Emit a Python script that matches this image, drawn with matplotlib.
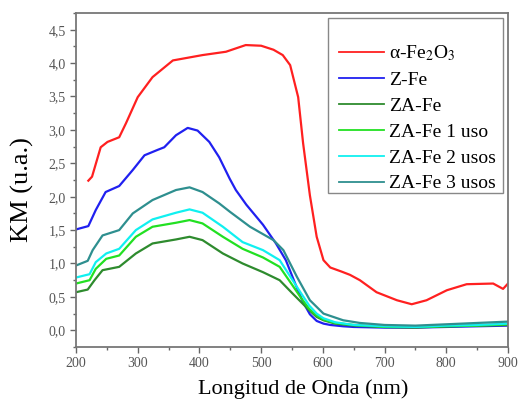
import os
import matplotlib
matplotlib.use("Agg")
import matplotlib.pyplot as plt
from matplotlib import font_manager as fm
from matplotlib.ticker import MultipleLocator, FuncFormatter
from matplotlib.patches import Rectangle

# locate a Times-like serif font file robustly
serif_name = None
cands = []
for root in ['/usr/share/fonts', '/usr/local/share/fonts', os.path.expanduser('~/.fonts'),
             os.path.expanduser('~/.local/share/fonts')]:
    if os.path.isdir(root):
        for dp, dn, fn in os.walk(root):
            for f in fn:
                if f.lower().endswith(('.ttf', '.otf')):
                    cands.append(os.path.join(dp, f))
cands += fm.findSystemFonts()
for f in cands:
    base = os.path.basename(f).lower()
    if 'liberationserif-regular' in base or base in ('times.ttf', 'times new roman.ttf'):
        try:
            fm.fontManager.addfont(f)
            serif_name = fm.FontProperties(fname=f).get_name()
            break
        except Exception:
            pass
if serif_name is None:
    serif_name = 'DejaVu Serif'

plt.rcParams['font.family'] = [serif_name, 'DejaVu Serif']
plt.rcParams['mathtext.fontset'] = 'stix'

# ---- data ----
x_fe2o3 = [220, 226, 240, 251, 270, 281, 300, 324, 357, 405, 443, 475, 500, 520, 535,
           547, 560, 568, 579, 590, 601, 612, 630, 644, 660, 687, 720, 744, 768,
           801, 833, 876, 892, 900]
y_fe2o3 = [2.24, 2.30, 2.74, 2.82, 2.89, 3.10, 3.49, 3.79, 4.04, 4.12, 4.17, 4.27, 4.26, 4.20, 4.12,
           3.97, 3.49, 2.80, 2.02, 1.40, 1.05, 0.94, 0.88, 0.83, 0.75, 0.57, 0.45, 0.39, 0.45,
           0.60, 0.69, 0.70, 0.62, 0.70]

x_common = [200, 220, 232, 248, 270, 292, 311, 332, 343, 362, 381, 397, 416, 432,
            449, 459, 476, 503, 524, 540, 556, 568, 579, 590, 601, 612, 633, 650,
            700, 750, 800, 850, 900]

y_zfe = [1.51, 1.56, 1.80, 2.07, 2.16, 2.40, 2.62, 2.70, 2.74, 2.92, 3.03, 2.99, 2.82, 2.59,
         2.27, 2.10, 1.88, 1.58, 1.30, 1.05, 0.68, 0.42, 0.24, 0.14, 0.10, 0.08, 0.06, 0.05,
         0.04, 0.04, 0.05, 0.06, 0.07]

x_za = [200, 219, 230, 243, 270, 297, 324, 362, 384, 405, 438, 470, 503, 530,
        551, 565, 578, 590, 601, 620, 650, 700, 750, 800, 850, 900]
y_za = [0.57, 0.61, 0.75, 0.90, 0.95, 1.15, 1.30, 1.36, 1.40, 1.35, 1.15, 1.00, 0.87, 0.75,
        0.55, 0.42, 0.30, 0.20, 0.15, 0.10, 0.07, 0.05, 0.04, 0.06, 0.07, 0.08]

x_za1 = [200, 222, 232, 249, 270, 297, 324, 362, 384, 405, 438, 470, 503, 530,
         551, 565, 578, 590, 601, 620, 650, 700, 750, 800, 850, 900]
y_za1 = [0.70, 0.75, 0.92, 1.07, 1.12, 1.40, 1.55, 1.61, 1.65, 1.60, 1.40, 1.22, 1.09, 0.95,
         0.67, 0.48, 0.32, 0.22, 0.16, 0.11, 0.08, 0.05, 0.05, 0.06, 0.07, 0.09]

x_za2 = [200, 222, 232, 249, 270, 297, 324, 362, 384, 405, 438, 470, 503, 530,
         551, 565, 578, 590, 601, 620, 650, 700, 750, 800, 850, 900]
y_za2 = [0.79, 0.84, 1.02, 1.15, 1.22, 1.50, 1.66, 1.76, 1.81, 1.76, 1.55, 1.32, 1.20, 1.05,
         0.75, 0.55, 0.37, 0.25, 0.18, 0.12, 0.08, 0.06, 0.05, 0.07, 0.08, 0.10]

x_za3 = [200, 219, 227, 243, 270, 292, 324, 362, 384, 405, 432, 450, 482, 520,
         536, 558, 579, 601, 633, 660, 700, 750, 800, 850, 900]
y_za3 = [0.97, 1.04, 1.20, 1.42, 1.50, 1.75, 1.95, 2.10, 2.14, 2.07, 1.90, 1.77, 1.55, 1.35,
         1.20, 0.80, 0.45, 0.25, 0.15, 0.11, 0.08, 0.07, 0.09, 0.11, 0.13]

labels = ['α-Fe$_\\mathrm{2}$O$_\\mathrm{3}$', 'Z-Fe', 'ZA-Fe', 'ZA-Fe 1 uso',
          'ZA-Fe 2 usos', 'ZA-Fe 3 usos']
colors = ['#ff2020', '#2020f0', '#2e8b2e', '#22e022', '#10f0f0', '#2e8f8f']

xlabel = 'Longitud de Onda (nm)'
ylabel = 'KM (u.a.)'

# ---- figure ----
W, H = 519, 401
fig = plt.figure(figsize=(W/100, H/100), dpi=100)
ax = fig.add_axes([76/W, 1-347/H, (508-76)/W, (347-13)/H])

series = [(x_fe2o3, y_fe2o3), (x_common, y_zfe), (x_za, y_za),
          (x_za1, y_za1), (x_za2, y_za2), (x_za3, y_za3)]
for (xs, ys), lab, c in zip(series, labels, colors):
    ax.plot(xs, ys, color=c, lw=1.6, label=lab)

ax.set_xlim(200, 900)
ax.set_ylim(-0.25, 4.75)
ax.xaxis.set_major_locator(MultipleLocator(100))
ax.xaxis.set_minor_locator(MultipleLocator(50))
ax.yaxis.set_major_locator(MultipleLocator(0.5))
ax.yaxis.set_minor_locator(MultipleLocator(0.25))
ax.yaxis.set_major_formatter(FuncFormatter(lambda v, p: f'{v:.1f}'.replace('.', ',')))
ax.xaxis.set_major_formatter(FuncFormatter(lambda v, p: f'{int(v)}'))

ax.tick_params(which='both', direction='out', color='#666666', labelcolor='#555555',
               labelsize=10, top=False, right=False)
ax.tick_params(which='major', length=4, width=1)
ax.tick_params(which='minor', length=2.5, width=1)
for s in ax.spines.values():
    s.set_color('#777777')
    s.set_linewidth(1.3)

ax.set_xlabel(xlabel, fontsize=16)
ax.set_ylabel(ylabel, fontsize=19)
ax.xaxis.set_label_coords(0.527, -0.098)
ax.yaxis.set_label_coords(-0.097, 0.47)

# legend frame drawn separately (reference has extra space at top)
frame = Rectangle((328/W, 1-193/H), 175/W, 175/H, transform=fig.transFigure,
                  facecolor='white', edgecolor='#888888', lw=1.0, zorder=4)
ax.add_artist(frame)
frame.set_clip_on(False)

leg = ax.legend(loc='upper right', bbox_to_anchor=(506/W, 1-34/H),
                bbox_transform=fig.transFigure, borderaxespad=0, fontsize=14,
                frameon=False, handlelength=2.3, handletextpad=0.3,
                labelspacing=0.42, borderpad=0.5)
leg.set_zorder(5)
for line in leg.get_lines():
    line.set_linewidth(1.3)

fig.savefig('out.png', dpi=100)
